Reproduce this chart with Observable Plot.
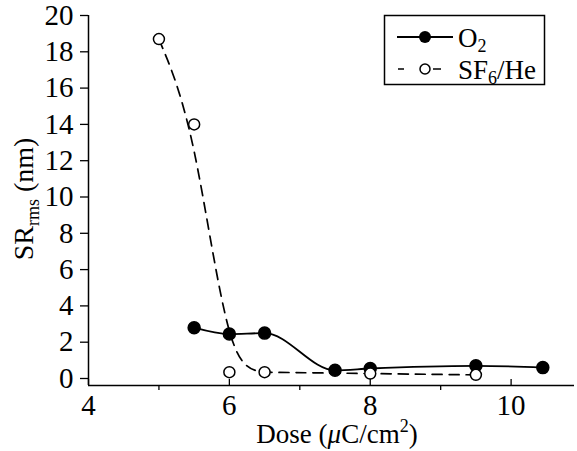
<!DOCTYPE html>
<html><head><meta charset="utf-8">
<script src="https://cdn.jsdelivr.net/npm/d3@7"></script>
<script src="https://cdn.jsdelivr.net/npm/@observablehq/plot@0.6"></script>
<style>body{margin:0;background:#fff}</style>
</head><body><div id="chart"></div>
<script>
const doseO2 = [5.5, 6, 6.5, 7.5, 8, 9.5, 10.45];
const srO2 = [2.8, 2.45, 2.5, 0.45, 0.55, 0.7, 0.6];
const doseSF6 = [5, 5.5, 6, 6.5, 8, 9.5];
const srSF6 = [18.7, 14, 0.35, 0.35, 0.27, 0.2];
const xMajorTicks = [4, 6, 8, 10];
const xMinorTicks = [5, 7, 9];
const yTicks = [0, 2, 4, 6, 8, 10, 12, 14, 16, 18, 20];
const xDomain = [4, 10.9];
const yDomain = [-0.386, 20];

const o2 = doseO2.map((d, i) => ({dose: d, sr: srO2[i]}));
const sf6 = doseSF6.map((d, i) => ({dose: d, sr: srSF6[i]}));

const W = 577, H = 451, mt = 15, mb = 66, ml = 88, mr = 3;
const font = "'Liberation Serif', 'Times New Roman', serif";

const svg = Plot.plot({
  width: W, height: H,
  marginTop: mt, marginBottom: mb, marginLeft: ml, marginRight: mr,
  style: `font-family: ${font}; color: black; background: white;`,
  x: {domain: xDomain},
  y: {domain: yDomain},
  marks: [
    Plot.ruleX([xDomain[0]], {stroke: "black", strokeWidth: 1.5}),
    Plot.ruleY([yDomain[0]], {stroke: "black", strokeWidth: 1.5}),
    Plot.axisY({ticks: yTicks, tickSize: 8, tickPadding: 7, fontSize: 29, fontFamily: font, tickFormat: d => String(d), label: null, strokeWidth: 1.3}),
    Plot.axisX({ticks: xMinorTicks, tickSize: 5, tickFormat: () => "", label: null, strokeWidth: 1.3}),
    Plot.axisX({ticks: xMajorTicks, tickSize: 0, tickPadding: 9, fontSize: 29, fontFamily: font, tickFormat: d => String(d), label: null}),
    Plot.tickX(xMajorTicks, {x: d => d, insetTop: H - mt - mb - 6, stroke: "black", strokeWidth: 1.3}),
    Plot.line(o2, {x: "dose", y: "sr", curve: "monotone-x", stroke: "black", strokeWidth: 1.8}),
    Plot.line(sf6, {x: "dose", y: "sr", curve: "basis", stroke: "black", strokeWidth: 1.7, strokeDasharray: "10,7"}),
    Plot.dot(o2, {x: "dose", y: "sr", r: 6, fill: "black", stroke: "black"}),
    Plot.dot(sf6, {x: "dose", y: "sr", r: 5.5, fill: "white", stroke: "black", strokeWidth: 1.5})
  ]
});
document.getElementById("chart").appendChild(svg);

const s = d3.select(svg);
s.selectAll("text").style("font-family", font).style("font-variant", "normal");
// x label
const xl = s.append("text").attr("x", 337).attr("y", 443).attr("text-anchor", "middle")
  .attr("font-size", 27).attr("fill", "black").style("font-family", font);
xl.append("tspan").text("Dose (");
xl.append("tspan").attr("font-style", "italic").text("\u03bc");
xl.append("tspan").text("C/cm");
xl.append("tspan").attr("font-size", 18).attr("dy", -11).text("2");
xl.append("tspan").attr("dy", 11).text(")");
// y label
const yl = s.append("text").attr("transform", "translate(33,199) rotate(-90)").attr("text-anchor", "middle")
  .attr("font-size", 28).attr("fill", "black").style("font-family", font);
yl.append("tspan").text("SR");
yl.append("tspan").attr("font-size", 18).attr("dy", 6).text("rms");
yl.append("tspan").attr("dy", -6).text(" (nm)");
// legend
const lg = s.append("g").style("font-family", font).attr("font-size", 27).attr("fill", "black").attr("text-anchor", "start");
lg.append("rect").attr("x", 384.5).attr("y", 15.5).attr("width", 160).attr("height", 69)
  .attr("fill", "white").attr("stroke", "black").attr("stroke-width", 1.5);
lg.append("line").attr("x1", 397).attr("x2", 453).attr("y1", 37).attr("y2", 37).attr("stroke", "black").attr("stroke-width", 1.8);
lg.append("circle").attr("cx", 425).attr("cy", 37).attr("r", 6).attr("fill", "black");
const t1 = lg.append("text").attr("x", 458).attr("y", 47);
t1.append("tspan").text("O");
t1.append("tspan").attr("font-size", 18).attr("dy", 5).text("2");
lg.append("line").attr("x1", 398).attr("x2", 441).attr("y1", 69).attr("y2", 69).attr("stroke", "black")
  .attr("stroke-width", 1.7).attr("stroke-dasharray", "6,29,8");
lg.append("circle").attr("cx", 425).attr("cy", 69).attr("r", 5).attr("fill", "white").attr("stroke", "black").attr("stroke-width", 1.5);
const t2 = lg.append("text").attr("x", 458).attr("y", 79);
t2.append("tspan").text("SF");
t2.append("tspan").attr("font-size", 18).attr("dy", 5).text("6");
t2.append("tspan").attr("dy", -5).text("/He");
</script>
</body></html>
